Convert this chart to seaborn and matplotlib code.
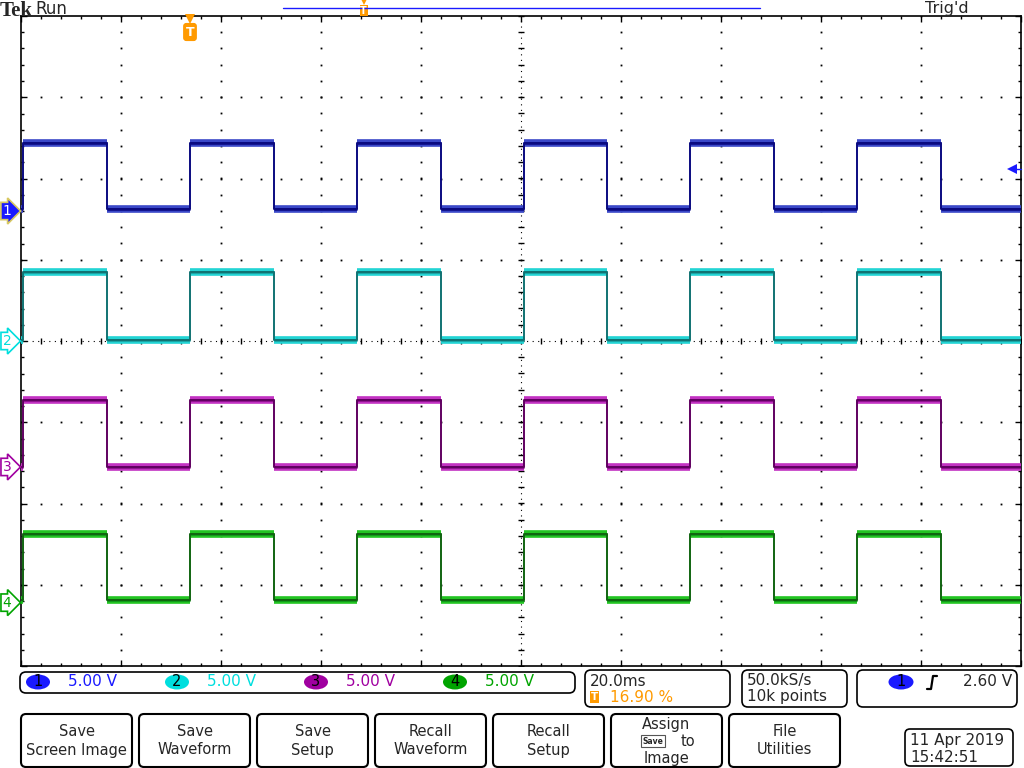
"""
Tek scope capture: four channels of the same ~30 Hz square wave
"""
import matplotlib
matplotlib.use("Agg")
import matplotlib.pyplot as plt
from matplotlib.patches import FancyBboxPatch, Ellipse
from matplotlib.ticker import MultipleLocator
from matplotlib.transforms import blended_transform_factory
import numpy as np
import pandas as pd
import seaborn as sns

# ---- data ----
channels = ['1', '2', '3', '4']
volts_per_div = [5.0, 5.0, 5.0, 5.0]
positions = [1.6, 0.0, -1.55, -3.22]      # channel ground, in divisions
low_v = [0.10, 0.05, 0.00, 0.15]
high_v = [4.20, 4.25, 4.10, 4.25]
edge_times = [0.4, 17.2, 33.8, 50.6, 67.2, 84.0, 100.6, 117.2, 133.8, 150.6, 167.2, 184.0]  # ms
time_per_div = 20.0     # ms
n_hdiv = 10
n_vdiv = 8
trigger_pos_pct = 16.90
trigger_level_v = 2.60
sample_rate = '50.0kS/s'
record_points = '10k points'
timestamp = ['11 Apr 2019', '15:42:51']
button_labels = ['Save\nScreen Image', 'Save\nWaveform', 'Save\nSetup', 'Recall\nWaveform',
                 'Recall\nSetup', 'Assign\nto\nImage', 'File\nUtilities']

# colours
badge_colors = ['#1a1aff', '#00dede', '#a000a0', '#00a400']
band_colors = ['#3a48c8', '#22d4d4', '#c232c2', '#22c422']
core_colors = ['#10108a', '#1aa0a0', '#8a108a', '#10961a']
edge_colors = ['#0a0a80', '#107272', '#600060', '#106410']
orange = '#ff9a00'

record_ms = time_per_div * n_hdiv

# build the waveforms in long form
rows = []
for ch, pos, vdiv, lo, hi in zip(channels, positions, volts_per_div, low_v, high_v):
    rows.append((ch, 0.0, pos + lo / vdiv))
    state = False
    for e in edge_times:
        rows.append((ch, e, pos + (hi if state else lo) / vdiv))
        state = not state
        rows.append((ch, e, pos + (hi if state else lo) / vdiv))
    rows.append((ch, record_ms, pos + (hi if state else lo) / vdiv))
wave = pd.DataFrame(rows, columns=['channel', 't', 'div'])

sns.set_style("white")
plt.rcParams['font.family'] = ['DejaVu Sans']

fig = plt.figure(figsize=(10.24, 7.68), dpi=100)
fig.patch.set_facecolor('white')
ax = fig.add_axes([21 / 1024, 102 / 768, 1000 / 1024, 650 / 768])
ax.set_xlim(0, record_ms)
ax.set_ylim(-n_vdiv / 2, n_vdiv / 2)

# graticule dots
ydots = np.arange(-n_vdiv / 2, n_vdiv / 2 + 0.01, 0.2)
xdots = np.arange(0, record_ms + 0.01, time_per_div / 5)
for gx in np.arange(time_per_div, record_ms, time_per_div):
    if abs(gx - record_ms / 2) < 1e-6:
        continue
    ax.plot(np.full_like(ydots, gx), ydots, ls='none', marker='s', ms=1.3, mew=0, color='k', zorder=1)
for gy in range(-n_vdiv // 2 + 1, n_vdiv // 2):
    if gy == 0:
        continue
    ax.plot(xdots, np.full_like(xdots, gy), ls='none', marker='s', ms=1.3, mew=0, color='k', zorder=1)
# center crosshair
ax.axvline(record_ms / 2, color='k', lw=0.8, ls=(0, (1, 4)), zorder=1)
ax.axhline(0, color='k', lw=0.8, ls=(0, (1, 4)), zorder=1)
ax.plot(np.full_like(ydots, record_ms / 2), ydots, ls='none', marker='_', ms=4, mew=1, color='k', zorder=1)
ax.plot(xdots, np.zeros_like(xdots), ls='none', marker='|', ms=4, mew=1, color='k', zorder=1)

# border ticks
ax.xaxis.set_major_locator(MultipleLocator(time_per_div))
ax.xaxis.set_minor_locator(MultipleLocator(time_per_div / 5))
ax.yaxis.set_major_locator(MultipleLocator(1))
ax.yaxis.set_minor_locator(MultipleLocator(0.2))
ax.tick_params(which='both', direction='in', top=True, right=True, bottom=True, left=True,
               labelbottom=False, labelleft=False, color='k', width=1)
ax.tick_params(which='major', length=4)
ax.tick_params(which='minor', length=2)
for s in ax.spines.values():
    s.set_color('k')
    s.set_linewidth(1.2)

# noise band + core on the plateaus
starts = [0.0] + edge_times
ends = edge_times + [record_ms]
for i, (pos, vdiv, lo, hi) in enumerate(zip(positions, volts_per_div, low_v, high_v)):
    levels = [pos + (lo if k % 2 == 0 else hi) / vdiv for k in range(len(starts))]
    ax.hlines(levels, starts, ends, color=band_colors[i], lw=5.5, zorder=3)
    ax.hlines(levels, starts, ends, color=core_colors[i], lw=2.0, zorder=4)

sns.lineplot(data=wave, x='t', y='div', hue='channel', palette=edge_colors,
             estimator=None, sort=False, lw=1.4, legend=False, ax=ax, zorder=5)
ax.set_xlabel('')
ax.set_ylabel('')

# channel ground markers on the left edge
fig_x = blended_transform_factory(fig.transFigure, ax.transData)
for i, (ch, pos) in enumerate(zip(channels, positions)):
    if i == 0:
        fc, ec, tc = badge_colors[i], '#d8c860', 'white'
    else:
        fc, ec, tc = 'white', badge_colors[i], badge_colors[i]
    ax.text(7 / 1024, pos, ch, transform=fig_x, ha='center', va='center', fontsize=10,
            color=tc, clip_on=False, zorder=8,
            bbox=dict(boxstyle='rarrow,pad=0.12', fc=fc, ec=ec, lw=1.2))

# trigger level arrow on the right
trig_y = positions[0] + trigger_level_v / volts_per_div[0]
ax.plot([record_ms - 1.8, record_ms], [trig_y, trig_y], color=badge_colors[0], lw=1, clip_on=False, zorder=8)
ax.plot([record_ms - 1.8], [trig_y], marker='<', ms=7, color=badge_colors[0], mew=0, clip_on=False, zorder=8)

# trigger position marker at the top
trig_t = record_ms * trigger_pos_pct / 100
x_fig = blended_transform_factory(ax.transData, fig.transFigure)
ax.plot([trig_t], [(768 - 19) / 768], marker='v', ms=7, color=orange, mew=0,
        transform=x_fig, clip_on=False, zorder=8)
ax.text(trig_t, (768 - 32) / 768, 'T', transform=x_fig, ha='center', va='center', fontsize=9,
        fontweight='bold', color='white', clip_on=False, zorder=8,
        bbox=dict(boxstyle='round,pad=0.15,rounding_size=0.2', fc=orange, ec=orange))

# ---- overlay in pixel coordinates for the scope chrome ----
ov = fig.add_axes([0, 0, 1, 1], zorder=10)
ov.set_xlim(0, 1024)
ov.set_ylim(768, 0)
ov.axis('off')
ov.patch.set_alpha(0)

ov.text(0, 16, 'Tek', fontsize=15, fontweight='bold', family='Liberation Serif', va='baseline', ha='left')
ov.text(35, 14, 'Run', fontsize=12, va='baseline', ha='left')
ov.text(925, 13, "Trig'd", fontsize=11.5, va='baseline', ha='left')
bar_x0, bar_x1 = 283, 760
ov.plot([bar_x0, bar_x1], [8, 8], color='#1a1aff', lw=1)
bar_t = bar_x0 + (bar_x1 - bar_x0) * trigger_pos_pct / 100
ov.add_patch(FancyBboxPatch((bar_t - 4, 5), 8, 11, boxstyle='square,pad=0', fc=orange, ec='none'))
ov.text(bar_t, 10.5, 'T', fontsize=7, color='white', fontweight='bold', ha='center', va='center')
ov.plot([bar_t], [2], marker='v', ms=5, color=orange, mew=0)


def rbox(x0, y0, x1, y1, r=6, lw=1.2):
    ov.add_patch(FancyBboxPatch((x0, y0), x1 - x0, y1 - y0,
                                boxstyle='round,pad=0,rounding_size=%d' % r,
                                fc='white', ec='k', lw=lw))


# channel scale readout
rbox(20, 672, 575, 693)
badge_x = [38, 177, 316, 455]
for i, ch in enumerate(channels):
    ov.add_patch(Ellipse((badge_x[i], 682), 24, 15, fc=badge_colors[i], ec='none'))
    ov.text(badge_x[i], 682, ch, fontsize=10.5, ha='center', va='center', color='k')
    ov.text(badge_x[i] + 30, 682, '%.2f V' % volts_per_div[i], fontsize=11,
            ha='left', va='center', color=badge_colors[i])

# timebase
rbox(585, 670, 730, 707)
ov.text(590, 681, '%.1fms' % time_per_div, fontsize=11, ha='left', va='center')
ov.add_patch(FancyBboxPatch((590, 691), 9, 12, boxstyle='square,pad=0', fc=orange, ec='none'))
ov.text(594.5, 697, 'T', fontsize=7.5, color='white', fontweight='bold', ha='center', va='center')
ov.text(610, 697, '%.2f %%' % trigger_pos_pct, fontsize=11, color=orange, ha='left', va='center')

# acquisition
rbox(742, 670, 847, 707)
ov.text(747, 681, sample_rate, fontsize=11, ha='left', va='center')
ov.text(747, 697, record_points, fontsize=11, ha='left', va='center')

# trigger readout
rbox(857, 670, 1017, 707)
ov.add_patch(Ellipse((901, 682), 25, 15, fc=badge_colors[0], ec='none'))
ov.text(901, 682, channels[0], fontsize=10.5, ha='center', va='center', color='k')
ov.plot([927, 931, 933, 937], [689, 689, 676, 676], color='k', lw=1.6)
ov.text(1012, 682, '%.2f V' % trigger_level_v, fontsize=11, ha='right', va='center')

# soft buttons
for i, lab in enumerate(button_labels):
    x0 = 21 + i * 118
    rbox(x0, 714, x0 + 111, 767, r=5, lw=1.5)
    lines = lab.split('\n')
    if len(lines) == 3:
        ov.text(x0 + 55.5, 724, lines[0], fontsize=10.5, ha='center', va='center')
        ov.text(x0 + 42, 741, 'Save', fontsize=5.5, ha='center', va='center', fontweight='bold',
                bbox=dict(boxstyle='square,pad=0.15', fc='white', ec='#555555', lw=0.8))
        ov.text(x0 + 77, 741, lines[1], fontsize=10.5, ha='center', va='center')
        ov.text(x0 + 55.5, 758, lines[2], fontsize=10.5, ha='center', va='center')
    else:
        for ln, yy in zip(lines, [732, 750]):
            ov.text(x0 + 55.5, yy, ln, fontsize=10.5, ha='center', va='center')

# date box
rbox(905, 729, 1013, 766, r=5)
ov.text(910, 741, timestamp[0], fontsize=11, ha='left', va='center')
ov.text(910, 757, timestamp[1], fontsize=11, ha='left', va='center')

fig.savefig('out.png', dpi=100, facecolor='white')
